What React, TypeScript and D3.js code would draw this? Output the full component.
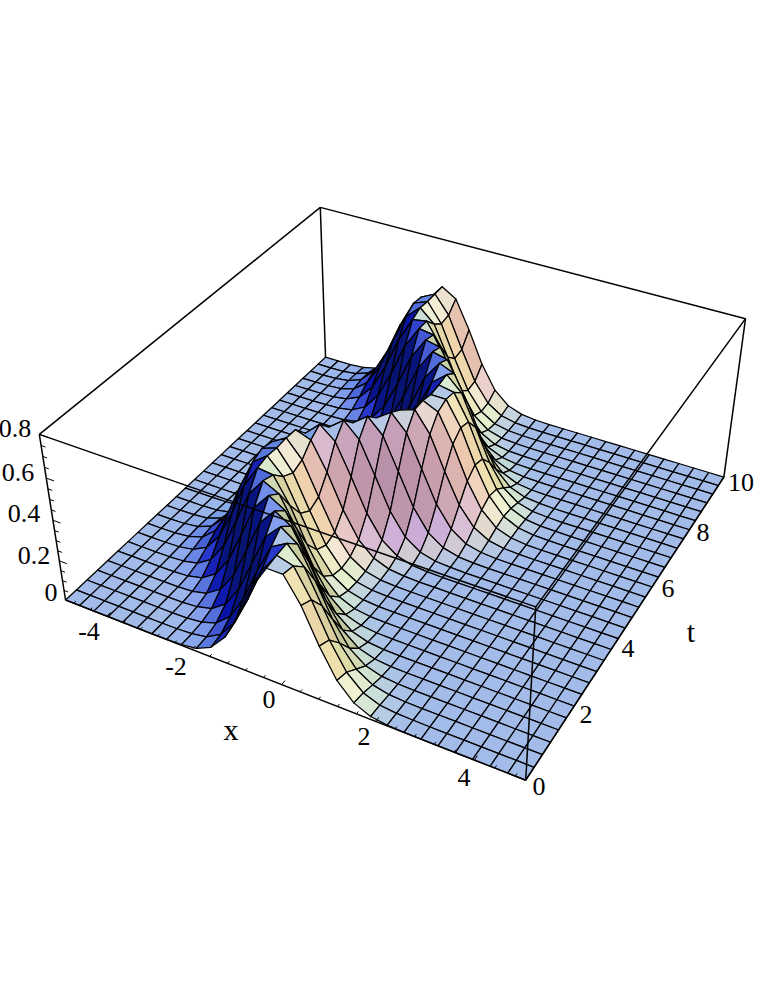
import React from "react";
import * as d3 from "d3";

// Surface height in thousandths, one row per t step, one column per x step. Trailing zeros are omitted.
const zRows: number[][] = [
  [0,0,0,0,0,0,0,1,4,15,51,131,268,432,548,548,432,268,131,51,15,4,1],
  [0,0,0,0,0,0,0,1,5,19,61,151,296,457,557,535,405,242,114,42,12,3,1],
  [0,0,0,0,0,0,0,2,10,35,98,217,378,519,562,480,324,172,72,24,6,1],
  [0,0,0,0,0,0,1,7,26,78,182,337,491,564,510,364,205,91,32,9,2],
  [0,0,0,0,0,1,6,24,73,173,325,482,563,518,376,215,97,34,10,2],
  [0,0,0,0,1,6,24,72,172,324,481,563,518,377,216,97,35,10,2],
  [0,0,0,1,6,22,68,165,315,473,561,524,386,224,103,37,11,2],
  [0,0,1,4,17,54,139,279,442,552,543,422,258,124,47,14,3,1],
  [0,0,2,9,32,92,206,366,511,564,490,336,181,77,26,7,1],
  [0,0,3,12,41,111,237,400,532,558,462,301,155,63,20,5,1],
  [0,0,2,10,35,98,217,378,519,562,480,323,171,72,24,6,1],
  [0,0,1,5,20,63,155,302,462,558,532,399,236,110,41,12,3],
  [0,0,0,2,8,28,82,190,347,498,564,504,355,197,86,30,8,2],
  [0,0,0,0,2,9,31,89,202,361,508,564,494,341,185,79,27,7,2],
  [0,0,0,0,0,2,9,31,90,203,362,509,564,493,340,184,79,27,7,1],
  [0,0,0,0,0,0,2,9,33,94,209,369,514,563,487,332,178,76,25,7,1],
  [0,0,0,0,0,0,0,3,12,41,112,239,402,533,558,460,299,153,62,20,5,1],
  [0,0,0,0,0,0,0,1,5,21,66,161,310,469,560,527,391,229,106,38,11,2],
  [0,0,0,0,0,0,0,1,4,16,51,132,270,433,548,547,430,267,131,50,15,4,1],
  [0,0,0,0,0,0,0,1,4,18,57,143,285,447,554,540,416,252,120,45,13,3,1],
  [0,0,0,0,0,0,0,2,8,30,86,197,355,504,564,497,346,190,82,28,7,2],
  [0,0,0,0,0,0,1,5,21,65,159,306,466,559,529,395,232,108,39,11,3],
  [0,0,0,0,0,1,5,18,58,147,290,452,555,538,411,247,117,44,13,3,1],
  [0,0,0,0,1,4,18,58,145,288,450,555,539,412,249,118,44,13,3,1],
  [0,0,0,1,4,17,56,141,282,445,553,542,418,255,122,46,14,3,1],
  [0,0,1,3,14,46,122,254,418,541,553,445,282,141,56,17,4,1],
  [0,0,2,8,29,84,193,351,501,564,501,351,194,84,29,8,2],
  [0,0,3,12,40,109,234,397,531,559,464,304,157,64,20,5,1],
  [0,0,2,11,37,103,226,388,525,561,472,313,164,68,22,6,1],
  [0,0,1,6,24,72,171,323,480,562,519,378,217,98,35,10,2],
];

const xDomain = [-5, 5];
const tDomain = [0, 10];
const zDomain = [0, 0.8];
const xLabels = [-4, -2, 0, 2, 4];
const tLabels = [0, 2, 4, 6, 8, 10];
const zLabels = ["0", "0.2", "0.4", "0.6", "0.8"];

const N = zRows.length;
const xs = d3.range(N).map((i) => xDomain[0] + ((xDomain[1] - xDomain[0]) * i) / (N - 1));
const ts = d3.range(N).map((j) => tDomain[0] + ((tDomain[1] - tDomain[0]) * j) / (N - 1));
const zGrid = zRows.map((r) => d3.range(N).map((i) => (r[i] ?? 0) / 1000));

const sx = d3.scaleLinear().domain(xDomain).range([-0.5, 0.5]);
const st = d3.scaleLinear().domain(tDomain).range([-0.5, 0.5]);
const sz = d3.scaleLinear().domain(zDomain).range([-0.2, 0.2]);

type V = [number, number, number];
const dot = (a: V, b: V) => a[0] * b[0] + a[1] * b[1] + a[2] * b[2];
const cross = (a: V, b: V): V => [a[1] * b[2] - a[2] * b[1], a[2] * b[0] - a[0] * b[2], a[0] * b[1] - a[1] * b[0]];
const sub = (a: V, b: V): V => [a[0] - b[0], a[1] - b[1], a[2] - b[2]];
const norm = (a: V): V => { const l = Math.sqrt(dot(a, a)); return [a[0] / l, a[1] / l, a[2] / l]; };

const eye: V = [1.3, -2.4, 2];
const fwd = norm([-eye[0], -eye[1], -eye[2]]);
const right = norm(cross(fwd, [0, 0, 1]));
const up = cross(right, fwd);
const K = 1697, X0 = 410, Y0 = 457.5;

const box = (x: number, t: number, z: number): V => [sx(x), st(t), sz(z)];
function proj(p: V): [number, number] {
  const d = dot(sub(p, eye), fwd);
  return [X0 + (K * dot(p, right)) / d, Y0 - (K * dot(p, up)) / d];
}
const P = (x: number, t: number, z: number) => proj(box(x, t, z));

const lR = norm([1, 0, 1]), lG = norm([1, 1, 1]), lB = norm([0, 1, 1]);
const clamp = (v: number) => Math.max(0, Math.min(1, v));
const blueCurve = d3.scaleLinear().domain([0, 0.49, 0.65, 0.81, 1]).range([0.2, 0.55, 0.8, 0.85, 0.98]);
function shade(a: V, b: V, c: V, d: V) {
  let n = norm(cross(sub(c, a), sub(d, b)));
  if (n[2] < 0) n = [-n[0], -n[1], -n[2]];
  const v: V = [dot(n, right), dot(n, up), -dot(n, fwd)];
  const r = Math.max(0, dot(v, lR)), g = Math.max(0, dot(v, lG)), bl = Math.max(0, dot(v, lB));
  const R = clamp(0.03 + 0.55 * Math.pow(g, 0.6) + 0.2 * r + 0.22 * r * r);
  const G = clamp(0.08 + 0.74 * Math.pow(g, 0.7) + 0.18 * g * g * g * r * r);
  const B = clamp(blueCurve(bl) + 0.55 * r * (0.85 - bl) - 0.08 * r * g);
  return d3.rgb(R * 255, G * 255, B * 255).formatHex();
}

const line = d3.line();
const seg = (a: [number, number], b: [number, number]) => line([a, b]) as string;

export default function App() {
  const cells: React.ReactNode[] = [];
  for (let j = N - 2; j >= 0; j--) {
    for (let i = 0; i < N - 1; i++) {
      const a = box(xs[i], ts[j], zGrid[j][i]);
      const b = box(xs[i + 1], ts[j], zGrid[j][i + 1]);
      const c = box(xs[i + 1], ts[j + 1], zGrid[j + 1][i + 1]);
      const d = box(xs[i], ts[j + 1], zGrid[j + 1][i]);
      const path = line([proj(a), proj(b), proj(c), proj(d)]) + "Z";
      cells.push(<path key={`${i}-${j}`} d={path} fill={shade(a, b, c, d)} stroke="#000" strokeWidth={1.25} strokeLinejoin="round" />);
    }
  }
  const zT = zDomain[1];
  const ticks: string[] = [];
  d3.range(-4.8, 5, 0.4).forEach((x) => {
    const major = Math.abs(x / 2 - Math.round(x / 2)) < 1e-6;
    ticks.push(seg(P(x, 0, 0), P(x, major ? 0.12 : 0.07, 0)));
  });
  d3.range(0, 0.81, 0.05).forEach((z) => {
    const major = Math.abs(z * 5 - Math.round(z * 5)) < 1e-6;
    ticks.push(seg(P(-5, 0, z), P(major ? -4.82 : -4.9, 0, z)));
  });
  const label = { fontFamily: "Liberation Serif", fontSize: 26, textAnchor: "middle" as const, fill: "#000" };
  const zPos = [[51, 601], [34, 564], [24, 522], [18, 481], [15, 437]];
  const xPos = [[89, 640], [176, 675], [269, 708], [364, 745], [464, 786]];
  const tPos = [[539, 795], [586, 723], [628, 657], [668, 597], [703, 541], [741, 491]];
  return (
    <svg width={763} height={987} style={{ position: "absolute", left: 0, top: 0, background: "#fff" }}>
      <g stroke="#000" strokeWidth={1.5} fill="none">
        <path d={seg(P(-5, 10, 0), P(-5, 10, zT))} />
        <path d={seg(P(-5, 0, zT), P(-5, 10, zT))} />
        <path d={seg(P(-5, 10, zT), P(5, 10, zT))} />
        <path d={seg(P(5, 10, 0), P(5, 10, zT))} />
        <path d={seg(P(-5, 0, 0), P(-5, 0, zT))} />
      </g>
      {cells}
      <g stroke="#000" strokeWidth={1.5} fill="none">
        <path d={seg(P(-5, 0, zT), P(5, 0, zT))} />
        <path d={seg(P(5, 0, zT), P(5, 10, zT))} />
        <path d={seg(P(5, 0, 0), P(5, 0, zT))} />
        <path d={seg(P(-5, 0, 0), P(5, 0, 0))} />
        <path d={seg(P(5, 0, 0), P(5, 10, 0))} />
        {ticks.map((d, i) => <path key={i} d={d} strokeWidth={1} />)}
      </g>
      <g {...label}>
        {zLabels.map((s, i) => <text key={s} x={zPos[i][0]} y={zPos[i][1]}>{s}</text>)}
        {xLabels.map((s, i) => <text key={s} x={xPos[i][0]} y={xPos[i][1]}>{s}</text>)}
        {tLabels.map((s, i) => <text key={s} x={tPos[i][0]} y={tPos[i][1]}>{s}</text>)}
        <text x={231} y={740} fontSize={30}>x</text>
        <text x={691} y={642} fontSize={30}>t</text>
      </g>
    </svg>
  );
}
